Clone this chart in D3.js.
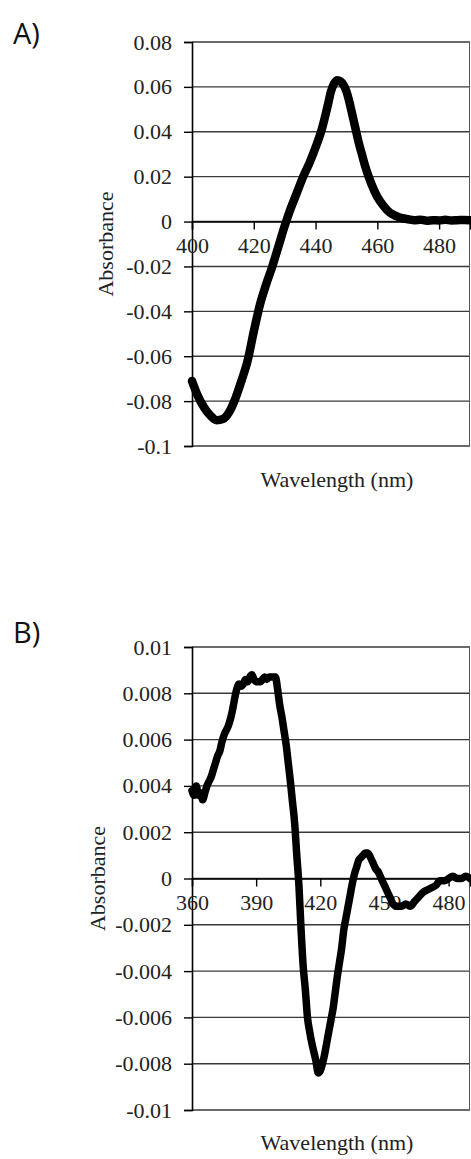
<!DOCTYPE html>
<html>
<head>
<meta charset="utf-8">
<script src="https://d3js.org/d3.v7.min.js"></script>
<style>
  body { margin: 0; background: #fff; }
  svg { display: block; }
</style>
</head>
<body>
<script>
// absorbance spectra, panels A and B

// panel A data (difference spectrum, 400-490 nm)
var wavelengthA = [400, 402, 404, 406, 408, 410, 412, 414, 416, 418, 420, 422, 424, 426, 428, 430,
  432, 434, 436, 438, 440, 442, 444, 445, 446, 447, 448, 449, 450, 451, 452, 453, 454, 455, 456,
  458, 460, 462, 464, 466, 468, 470, 472, 474, 476, 478, 480, 482, 484, 486, 488, 490];
var absorbanceA = [-0.071, -0.078, -0.083, -0.0865, -0.0885, -0.088, -0.085, -0.079, -0.071,
  -0.062, -0.049, -0.037, -0.028, -0.020, -0.011, -0.002, 0.006, 0.013, 0.020, 0.026, 0.033, 0.041,
  0.052, 0.058, 0.0615, 0.063, 0.0625, 0.061, 0.058, 0.053, 0.047, 0.041, 0.035, 0.030, 0.025,
  0.017, 0.011, 0.007, 0.004, 0.0025, 0.0015, 0.001, 0.0006, 0.0008, 0.0004, 0.0006, 0.0005, 0.0008,
  0.0005, 0.0006, 0.0007, 0.0006];
var xTicksA = [400, 420, 440, 460, 480];
var yTicksA = [0.08, 0.06, 0.04, 0.02, 0, -0.02, -0.04, -0.06, -0.08, -0.1];

// panel B data (360-490 nm)
var wavelengthB = [360, 361, 362, 363, 364, 365, 366, 367, 368, 369, 370, 371, 372, 373, 374, 375,
  376, 377, 378, 379, 380, 381, 382, 383, 384, 385, 386, 387, 388, 389, 390, 391, 392, 393, 394,
  395, 396, 397, 398, 399, 400, 401, 402, 403, 404, 405, 406, 407, 408, 409, 410, 411, 412, 413,
  414, 415, 416, 417, 418, 419, 420, 421, 422, 423, 424, 425, 426, 427, 428, 429, 430, 431, 432,
  433, 434, 435, 436, 437, 438, 439, 440, 441, 442, 443, 444, 445, 446, 447, 448, 449, 450, 451,
  452, 453, 454, 456, 458, 460, 462, 464, 466, 468, 470, 472, 474, 476, 478, 480, 482, 484, 486,
  488, 490];
var absorbanceB = [0.0038, 0.0036, 0.0040, 0.0036, 0.0037, 0.0034, 0.0037, 0.0040, 0.0042, 0.0044,
  0.0047, 0.0050, 0.0053, 0.0055, 0.0059, 0.0062, 0.0064, 0.0066, 0.0069, 0.0073, 0.0078, 0.0082,
  0.0084, 0.0083, 0.0084, 0.0086, 0.0085, 0.0087, 0.0088, 0.0086, 0.0085, 0.0085, 0.0085, 0.0086,
  0.0087, 0.0086, 0.0087, 0.0087, 0.0087, 0.0087, 0.0082, 0.0075, 0.0070, 0.0064, 0.0058, 0.0050,
  0.0042, 0.0033, 0.0024, 0.0010, -0.0003, -0.0022, -0.0038, -0.0048, -0.0060, -0.0066, -0.0071,
  -0.0075, -0.0079, -0.0084, -0.0083, -0.0080, -0.0076, -0.0071, -0.0066, -0.0061, -0.0056,
  -0.0049, -0.0042, -0.0036, -0.0030, -0.0022, -0.0017, -0.0012, -0.0007, -0.0002, 0.0002,
  0.0005, 0.0008, 0.0009, 0.0010, 0.0011, 0.0011, 0.0010, 0.0008, 0.0006, 0.0004, 0.0003, 0.0001,
  -0.0001, -0.0003, -0.0005, -0.0007, -0.0009, -0.0011, -0.0012, -0.0012, -0.0011, -0.0012,
  -0.0010, -0.0008, -0.0006, -0.0005, -0.0004, -0.0003, -0.0001, -0.0001, 0.0000, 0.0001, 0.0000,
  0.0000, 0.0001, 0.0000];
var xTicksB = [360, 390, 420, 450, 480];
var yTicksB = [0.01, 0.008, 0.006, 0.004, 0.002, 0, -0.002, -0.004, -0.006, -0.008, -0.01];

var svg = d3.select("body")
  .append("svg")
  .attr("width", 471)
  .attr("height", 1159);

svg.append("rect")
  .attr("width", 471)
  .attr("height", 1159)
  .attr("fill", "#fff");

function drawSpectrum(opt)
{
  var xScale = d3.scaleLinear()
    .domain(opt.xDomain)
    .range([192, 470]);
  var yScale = d3.scaleLinear()
    .domain(opt.yDomain)
    .range(opt.yRange);

  var g = svg.append("g");

  // horizontal gridlines
  g.append("g")
    .selectAll("line")
    .data(opt.yTicks)
    .enter().append("line")
    .attr("x1", xScale.range()[0])
    .attr("x2", xScale.range()[1])
    .attr("y1", function(d) { return yScale(d); })
    .attr("y2", function(d) { return yScale(d); })
    .attr("stroke", "#3a3a3a")
    .attr("stroke-width", 1.4);

  // right edge of plot area
  g.append("line")
    .attr("x1", xScale.range()[1] - 0.5)
    .attr("x2", xScale.range()[1] - 0.5)
    .attr("y1", yScale(opt.yDomain[1]))
    .attr("y2", yScale(opt.yDomain[0]))
    .attr("stroke", "#555")
    .attr("stroke-width", 1);

  // y axis
  var yAxis = g.append("g")
    .attr("transform", "translate(" + xScale.range()[0] + ",0)")
    .call(d3.axisLeft(yScale)
      .tickValues(opt.yTicks)
      .tickSize(8)
      .tickPadding(12)
      .tickFormat(function(d) { return String(+d.toFixed(4)); }));
  yAxis.select(".domain").attr("stroke", "#000").attr("stroke-width", 1.6);
  yAxis.selectAll(".tick line").attr("stroke", "#000").attr("stroke-width", 1.4);
  yAxis.selectAll("text")
    .attr("font-family", "'Liberation Serif', 'Times New Roman', serif")
    .attr("font-size", 22)
    .attr("fill", "#222");

  // x axis crossing at zero
  var xAxis = g.append("g")
    .attr("transform", "translate(0," + yScale(0) + ")")
    .call(d3.axisBottom(xScale)
      .tickValues(opt.xTicks)
      .tickSize(8)
      .tickPadding(8));
  xAxis.select(".domain").attr("stroke", "#000").attr("stroke-width", 1.4);
  xAxis.selectAll(".tick line").attr("stroke", "#000").attr("stroke-width", 1.4);
  xAxis.selectAll("text")
    .attr("font-family", "'Liberation Serif', 'Times New Roman', serif")
    .attr("font-size", 22)
    .attr("fill", "#222");

  // spectrum
  var pts = opt.wavelength.map(function(w, i) { return [w, opt.absorbance[i]]; });
  var line = d3.line()
    .x(function(d) { return xScale(d[0]); })
    .y(function(d) { return yScale(d[1]); })
    .curve(d3.curveMonotoneX);
  g.append("path")
    .datum(pts)
    .attr("d", line)
    .attr("fill", "none")
    .attr("stroke", "#000")
    .attr("stroke-width", opt.lineWidth)
    .attr("stroke-linejoin", "round")
    .attr("stroke-linecap", "round");

  // panel letter
  g.append("text")
    .attr("x", 13)
    .attr("y", opt.letterY)
    .attr("font-family", "'Open Sans', 'Liberation Sans', sans-serif")
    .attr("font-size", 29)
    .attr("fill", "#111")
    .text(opt.letter);

  // y title
  g.append("text")
    .attr("transform", "translate(" + opt.yTitleX + "," + ((opt.yRange[0] + opt.yRange[1]) / 2) + ") rotate(-90)")
    .attr("text-anchor", "middle")
    .attr("font-family", "'Liberation Serif', 'Times New Roman', serif")
    .attr("font-size", 22)
    .attr("fill", "#222")
    .text("Absorbance");

  // x title
  g.append("text")
    .attr("x", 337)
    .attr("y", opt.xTitleY)
    .attr("text-anchor", "middle")
    .attr("font-family", "'Liberation Serif', 'Times New Roman', serif")
    .attr("font-size", 22)
    .attr("fill", "#222")
    .text("Wavelength (nm)");
}

drawSpectrum({
  letter: "A)", letterY: 44,
  wavelength: wavelengthA, absorbance: absorbanceA,
  xDomain: [400, 490], yDomain: [-0.1, 0.08], yRange: [446, 42],
  xTicks: xTicksA, yTicks: yTicksA,
  yTitleX: 113, xTitleY: 487, lineWidth: 8.5
});

drawSpectrum({
  letter: "B)", letterY: 643,
  wavelength: wavelengthB, absorbance: absorbanceB,
  xDomain: [360, 490], yDomain: [-0.01, 0.01], yRange: [1110, 647],
  xTicks: xTicksB, yTicks: yTicksB,
  yTitleX: 105, xTitleY: 1150, lineWidth: 7.5
});
</script>
</body>
</html>
